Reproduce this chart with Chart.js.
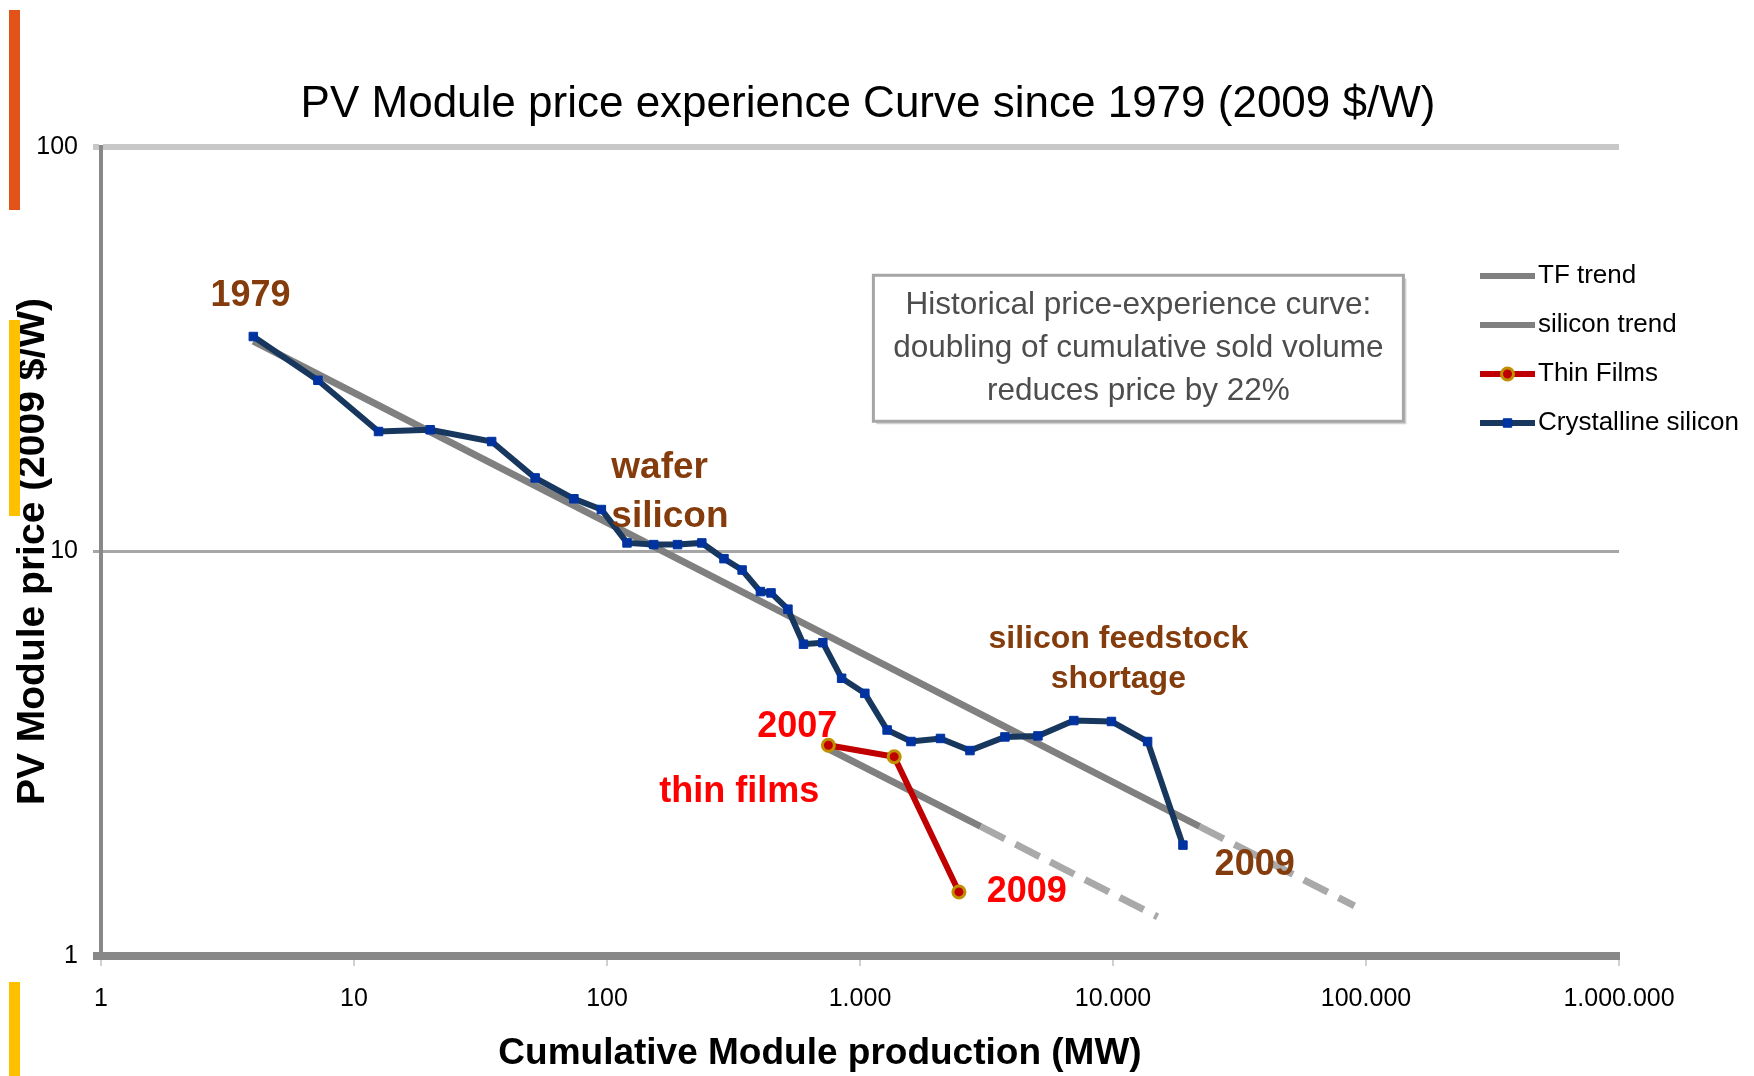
<!DOCTYPE html>
<html>
<head>
<meta charset="utf-8">
<title>PV Module price experience curve</title>
<script src="https://cdn.jsdelivr.net/npm/chart.js@4.4.1/dist/chart.umd.min.js"></script>
<style>
  html, body { margin: 0; padding: 0; background: #fff; }
  #wrap { position: relative; width: 1754px; height: 1076px; overflow: hidden; }
  #chart { position: absolute; left: 0; top: 0; }
  .bar { position: absolute; left: 9px; width: 11px; }
</style>
</head>
<body>
<div id="wrap">
  <canvas id="chart" width="1754" height="1076"></canvas>
  <div class="bar" style="top:10px;height:200px;background:#E2531A"></div>
  <div class="bar" style="top:320px;height:196px;background:#FFC000"></div>
  <div class="bar" style="top:982px;height:94px;background:#FFC000"></div>
</div>
<script>
// Crystalline silicon, 1979 -> 2009 (cumulative MW, 2009 $/W)
const siliconMW = [4, 7.2, 12.5, 20, 35, 52, 74, 95, 120, 153, 190, 237, 290, 342, 404, 445,
  519, 598, 713, 846, 1045, 1280, 1590, 2080, 2720, 3740, 5050, 7000, 9860, 13700, 18900];
const siliconPrice = [34, 26.5, 19.8, 20, 18.7, 15.2, 13.5, 12.7, 10.5, 10.4, 10.4, 10.5, 9.6, 9.0, 7.96, 7.9,
  7.2, 5.9, 5.95, 4.86, 4.46, 3.62, 3.39, 3.45, 3.22, 3.48, 3.5, 3.82, 3.8, 3.39, 1.88];

// Thin films, 2007 -> 2009
const thinMW = [750, 1365, 2460];
const thinPrice = [3.32, 3.11, 1.44];

// trend lines: start, end of fitted range, end of extrapolation
const siTrendMW = [4, 22000, 90000];
const siTrendPrice = [33.1, 2.09, 1.33];
const tfTrendMW = [730, 3000, 15000];
const tfTrendPrice = [3.28, 2.09, 1.25];

const xTickValues = [1, 10, 100, 1000, 10000, 100000, 1000000];
const xTickLabels = ['1', '10', '100', '1.000', '10.000', '100.000', '1.000.000'];
const yTickValues = [1, 10, 100];
const yTickLabels = ['1', '10', '100'];

const chartTitle = 'PV Module price experience Curve since 1979 (2009 $/W)';
const xTitle = 'Cumulative Module production (MW)';
const yTitle = 'PV Module price (2009 $/W)';

const notes = [
  { text: '1979', at: [3.9, 42.8], style: 'brown' },
  { text: 'wafer', at: [104, 16.1], style: 'brownLeft' },
  { text: 'silicon', at: [104, 12.2], style: 'brownLeft' },
  { text: 'silicon feedstock', at: [10500, 6.08], style: 'brownSmall' },
  { text: 'shortage', at: [10500, 4.84], style: 'brownSmall' },
  { text: '2009', at: [36300, 1.68], style: 'brown' },
  { text: '2007', at: [565, 3.68], style: 'red' },
  { text: 'thin films', at: [333, 2.54], style: 'red' },
  { text: '2009', at: [4560, 1.435], style: 'red' },
];
const boxLines = ['Historical price-experience curve:', 'doubling of cumulative sold volume', 'reduces price by 22%'];
const boxAt = [12600, 31.8];

const FONT = '"Liberation Sans", Arial, sans-serif';
const BROWN = '#843C0C';
const noteStyles = {
  brown: { color: BROWN, font: 'bold 36px ' + FONT, align: 'center' },
  brownLeft: { color: BROWN, font: 'bold 37px ' + FONT, align: 'left' },
  brownSmall: { color: BROWN, font: 'bold 32px ' + FONT, align: 'center' },
  red: { color: '#FF0000', font: 'bold 36px ' + FONT, align: 'center' },
};

const pts = (xs, ys) => xs.map((x, i) => ({ x: x, y: ys[i] }));

const trendSegment = {
  borderColor: c => c.p0DataIndex >= 1 ? '#a9a9a9' : '#808080',
  borderDash: c => c.p0DataIndex >= 1 ? [27, 12] : undefined,
};

// titles, annotations, box and legend drawn on top of the datasets
const annotate = {
  id: 'annotate',
  afterDatasetsDraw(chart) {
    const { ctx, scales: { x, y } } = chart;
    ctx.save();
    ctx.textBaseline = 'middle';

    // chart title and x-axis title (slightly off the plot centre in the original)
    ctx.fillStyle = '#000';
    ctx.textAlign = 'center';
    ctx.font = '44px ' + FONT;
    ctx.fillText(chartTitle, 868, 105);
    ctx.font = 'bold 37px ' + FONT;
    ctx.fillText(xTitle, 820, 1054);

    notes.forEach(n => {
      const s = noteStyles[n.style];
      ctx.font = s.font;
      ctx.fillStyle = s.color;
      ctx.textAlign = s.align;
      ctx.fillText(n.text, x.getPixelForValue(n.at[0]), y.getPixelForValue(n.at[1]));
    });

    // text box
    const bx = x.getPixelForValue(boxAt[0]);
    const by = y.getPixelForValue(boxAt[1]);
    const bw = 530, bh = 146;
    ctx.save();
    ctx.shadowColor = 'rgba(0,0,0,0.18)';
    ctx.shadowOffsetX = 3;
    ctx.shadowOffsetY = 3;
    ctx.fillStyle = '#fff';
    ctx.fillRect(bx - bw / 2, by - bh / 2, bw, bh);
    ctx.restore();
    ctx.strokeStyle = '#a6a6a6';
    ctx.lineWidth = 3;
    ctx.strokeRect(bx - bw / 2, by - bh / 2, bw, bh);
    ctx.font = '31.5px ' + FONT;
    ctx.fillStyle = '#4d4d4d';
    ctx.textAlign = 'center';
    boxLines.forEach((t, i) => ctx.fillText(t, bx, by + (i - 1) * 43));

    // legend, last dataset first
    const lx = 1480, ly = 276, step = 49;
    const items = chart.data.datasets.slice().reverse();
    items.forEach((ds, i) => {
      const yy = ly + i * step;
      ctx.strokeStyle = ds.borderColor;
      ctx.lineWidth = 6;
      ctx.setLineDash([]);
      ctx.beginPath();
      ctx.moveTo(lx, yy);
      ctx.lineTo(lx + 55, yy);
      ctx.stroke();
      if (ds.pointRadius) {
        ctx.fillStyle = ds.pointBackgroundColor;
        ctx.strokeStyle = ds.pointBorderColor;
        ctx.lineWidth = ds.pointBorderWidth;
        Chart.helpers.drawPoint(ctx, { pointStyle: ds.pointStyle, radius: ds.pointRadius, borderWidth: ds.pointBorderWidth, rotation: 0 }, lx + 27.5, yy);
      }
      ctx.font = '26px ' + FONT;
      ctx.fillStyle = '#000';
      ctx.textAlign = 'left';
      ctx.fillText(ds.label, lx + 58, yy);
    });
    ctx.restore();
  }
};

new Chart(document.getElementById('chart'), {
  type: 'line',
  data: {
    datasets: [
      {
        label: 'Crystalline silicon',
        data: pts(siliconMW, siliconPrice),
        borderColor: '#17375E',
        borderWidth: 6,
        pointStyle: 'rect',
        pointRadius: 6,
        pointBackgroundColor: '#0033A0',
        pointBorderColor: '#0033A0',
        pointBorderWidth: 1,
        tension: 0,
      },
      {
        label: 'Thin Films',
        data: pts(thinMW, thinPrice),
        borderColor: '#C00000',
        borderWidth: 6,
        pointStyle: 'circle',
        pointRadius: 6,
        pointBackgroundColor: '#C00000',
        pointBorderColor: '#BF9000',
        pointBorderWidth: 3,
        tension: 0,
      },
      {
        label: 'silicon trend',
        data: pts(siTrendMW, siTrendPrice),
        borderColor: '#808080',
        borderWidth: 7,
        pointRadius: 0,
        segment: trendSegment,
      },
      {
        label: 'TF trend',
        data: pts(tfTrendMW, tfTrendPrice),
        borderColor: '#808080',
        borderWidth: 7,
        pointRadius: 0,
        segment: trendSegment,
      },
    ],
  },
  options: {
    responsive: false,
    animation: false,
    layout: { padding: { left: 0, right: 135, top: 147, bottom: 0 } },
    plugins: {
      legend: { display: false },
      tooltip: { enabled: false },
      title: { display: false },
    },
    scales: {
      x: {
        type: 'logarithmic',
        min: 1,
        max: 1000000,
        afterBuildTicks: s => { s.ticks = xTickValues.map(v => ({ value: v })); },
        afterFit: s => { s.height = 120; },
        ticks: {
          autoSkip: false,
          maxRotation: 0,
          padding: 18,
          color: '#000',
          font: { family: FONT, size: 25 },
          callback: v => xTickLabels[xTickValues.indexOf(v)],
        },
        grid: { drawOnChartArea: false, color: '#d0d0d0', lineWidth: 2, tickLength: 10 },
        border: { color: '#888', width: 8 },
        title: { display: false },
      },
      y: {
        type: 'logarithmic',
        min: 1,
        max: 100,
        afterBuildTicks: s => { s.ticks = yTickValues.map(v => ({ value: v })); },
        afterFit: s => { s.width = 101; },
        ticks: {
          padding: 15,
          color: '#000',
          font: { family: FONT, size: 25 },
          callback: v => yTickLabels[yTickValues.indexOf(v)],
        },
        grid: {
          tickLength: 8,
          color: c => c.tick.value === 100 ? '#c8c8c8' : (c.tick.value === 10 ? '#a6a6a6' : '#888'),
          lineWidth: c => c.tick.value === 100 ? 6 : (c.tick.value === 10 ? 3 : 8),
        },
        border: { color: '#888', width: 4 },
        title: {
          display: true,
          text: yTitle,
          color: '#000',
          font: { family: FONT, size: 39, weight: 'bold', lineHeight: 1 },
          padding: { top: 14, bottom: 0 },
        },
      },
    },
  },
  plugins: [annotate],
});
</script>
</body>
</html>
